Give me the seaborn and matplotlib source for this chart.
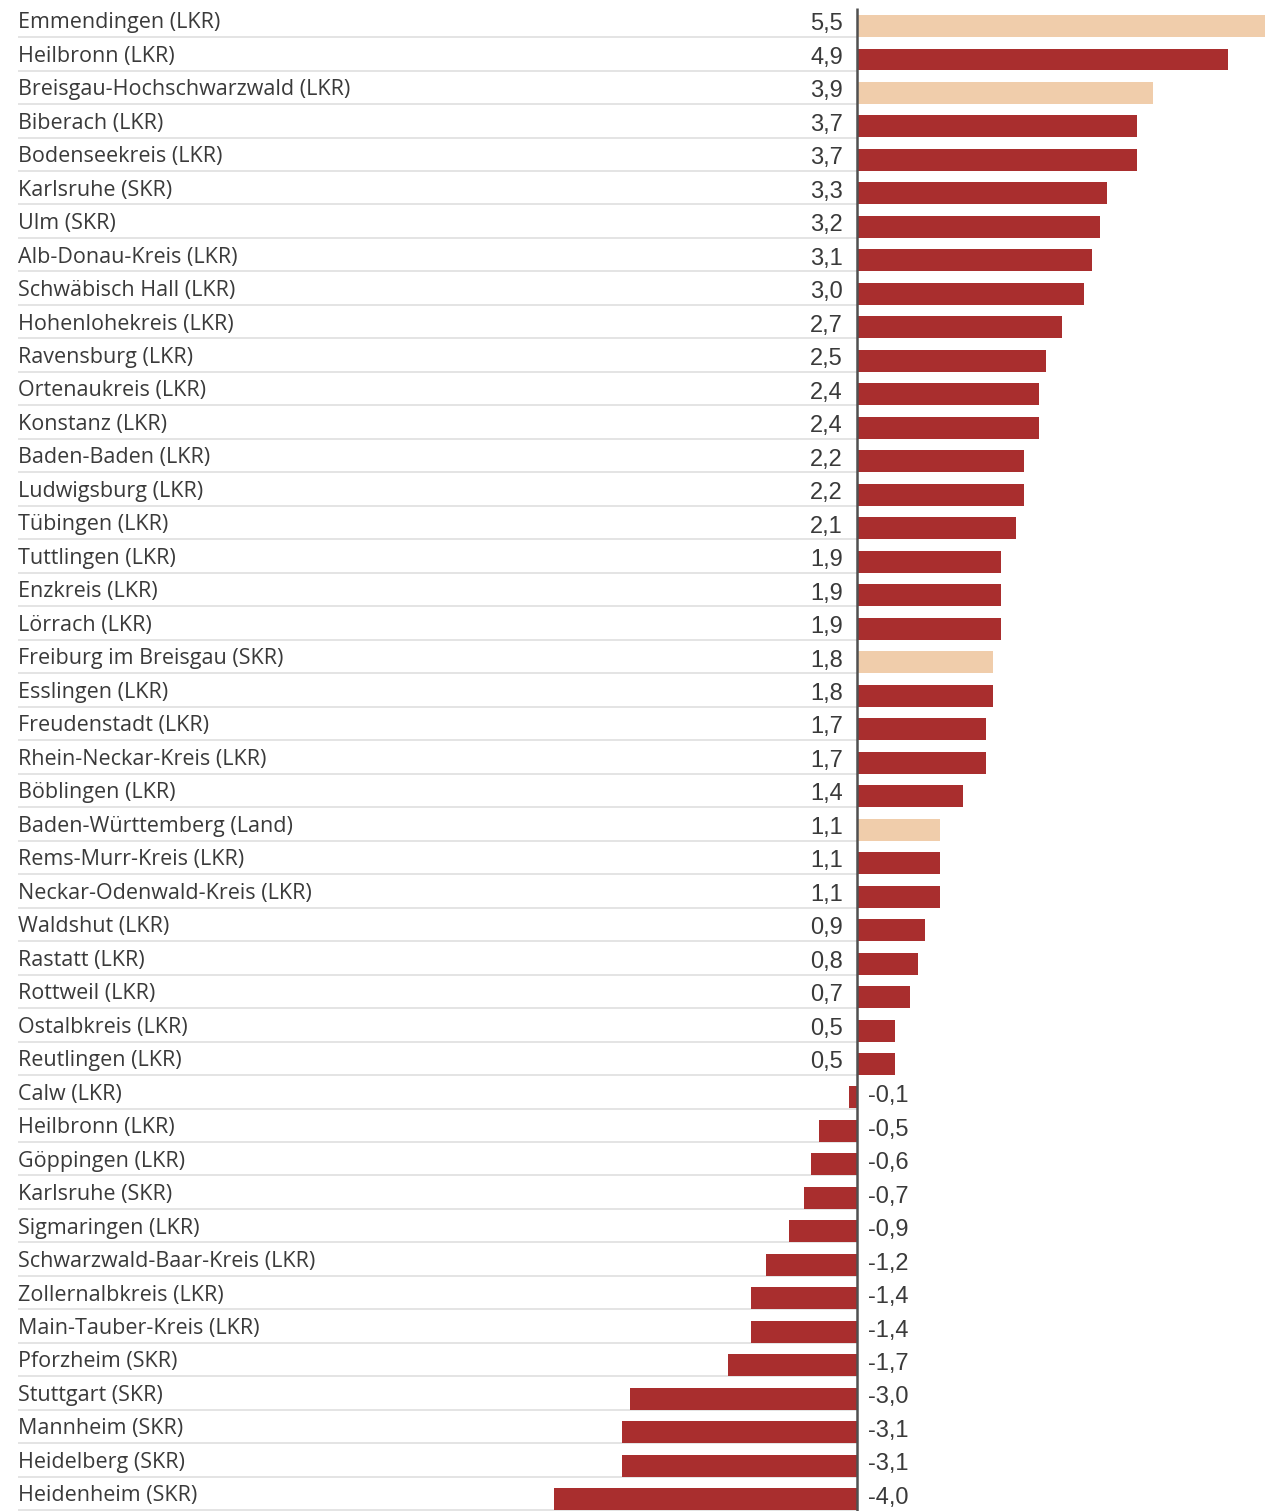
import matplotlib
matplotlib.use("Agg")
import matplotlib.pyplot as plt
import seaborn as sns
import pandas as pd

regions = [
    "Emmendingen (LKR)", "Heilbronn (LKR)", "Breisgau-Hochschwarzwald (LKR)",
    "Biberach (LKR)", "Bodenseekreis (LKR)", "Karlsruhe (SKR)", "Ulm (SKR)",
    "Alb-Donau-Kreis (LKR)", "Schwäbisch Hall (LKR)", "Hohenlohekreis (LKR)",
    "Ravensburg (LKR)", "Ortenaukreis (LKR)", "Konstanz (LKR)",
    "Baden-Baden (LKR)", "Ludwigsburg (LKR)", "Tübingen (LKR)",
    "Tuttlingen (LKR)", "Enzkreis (LKR)", "Lörrach (LKR)",
    "Freiburg im Breisgau (SKR)", "Esslingen (LKR)", "Freudenstadt (LKR)",
    "Rhein-Neckar-Kreis (LKR)", "Böblingen (LKR)", "Baden-Württemberg (Land)",
    "Rems-Murr-Kreis (LKR)", "Neckar-Odenwald-Kreis (LKR)", "Waldshut (LKR)",
    "Rastatt (LKR)", "Rottweil (LKR)", "Ostalbkreis (LKR)", "Reutlingen (LKR)",
    "Calw (LKR)", "Heilbronn (LKR)", "Göppingen (LKR)", "Karlsruhe (SKR)",
    "Sigmaringen (LKR)", "Schwarzwald-Baar-Kreis (LKR)", "Zollernalbkreis (LKR)",
    "Main-Tauber-Kreis (LKR)", "Pforzheim (SKR)", "Stuttgart (SKR)",
    "Mannheim (SKR)", "Heidelberg (SKR)", "Heidenheim (SKR)",
]
changes = [
    5.5, 4.9, 3.9, 3.7, 3.7, 3.3, 3.2, 3.1, 3.0, 2.7, 2.5, 2.4, 2.4, 2.2, 2.2,
    2.1, 1.9, 1.9, 1.9, 1.8, 1.8, 1.7, 1.7, 1.4, 1.1, 1.1, 1.1, 0.9, 0.8, 0.7,
    0.5, 0.5, -0.1, -0.5, -0.6, -0.7, -0.9, -1.2, -1.4, -1.4, -1.7, -3.0, -3.1,
    -3.1, -4.0,
]
highlighted = [
    "Emmendingen (LKR)", "Breisgau-Hochschwarzwald (LKR)",
    "Freiburg im Breisgau (SKR)", "Baden-Württemberg (Land)",
]

RED = "#a92e2e"
PEACH = "#f0cdab"
TEXT = "#3a3a3a"

df = pd.DataFrame({
    "region": regions,
    "change": changes,
    "pos": range(len(regions)),
})
df["group"] = ["hl" if r in highlighted else "base" for r in df["region"]]

sns.set_theme(style="white")
plt.rcParams["font.family"] = ["Open Sans", "DejaVu Sans"]

fig = plt.figure(figsize=(12.65, 15.11), dpi=100)
ax = fig.add_axes([0, 0, 1, 1])

sns.barplot(
    data=df, x="change", y="pos", hue="group", orient="h",
    native_scale=True, dodge=False, width=0.657, linewidth=0,
    saturation=1, palette={"base": RED, "hl": PEACH}, legend=False, ax=ax,
)

x_left, x_right = -11.306, 5.383
ax.set_xlim(x_left, x_right)
ax.set_ylim(44.35, -0.777)
ax.set_axis_off()

label_x = x_left + 18 / 75.8
for i, (name, v) in enumerate(zip(df["region"], df["change"])):
    # row separator under each label
    ax.plot([label_x, 0], [i + 0.33, i + 0.33], color="#e2e2e2",
            lw=1.3, solid_capstyle="butt", zorder=0)
    ax.text(label_x, i - 0.1, name, ha="left", va="center",
            fontsize=15.5, color=TEXT, family=["Open Sans", "DejaVu Sans"])
    txt = f"{v:.1f}".replace(".", ",")
    if v >= 0:
        ax.text(-0.185, i - 0.05, txt, ha="right", va="center",
                fontsize=17, color=TEXT, family=["Liberation Sans", "DejaVu Sans"])
    else:
        ax.text(0.15, i - 0.04, txt, ha="left", va="center",
                fontsize=17, color=TEXT, family=["Liberation Sans", "DejaVu Sans"])

# zero baseline
ax.plot([0, 0], [-0.54, 44.35], color="#505050", lw=1.8, zorder=5,
        solid_capstyle="butt")

fig.savefig("out.png", dpi=100, facecolor="white")
